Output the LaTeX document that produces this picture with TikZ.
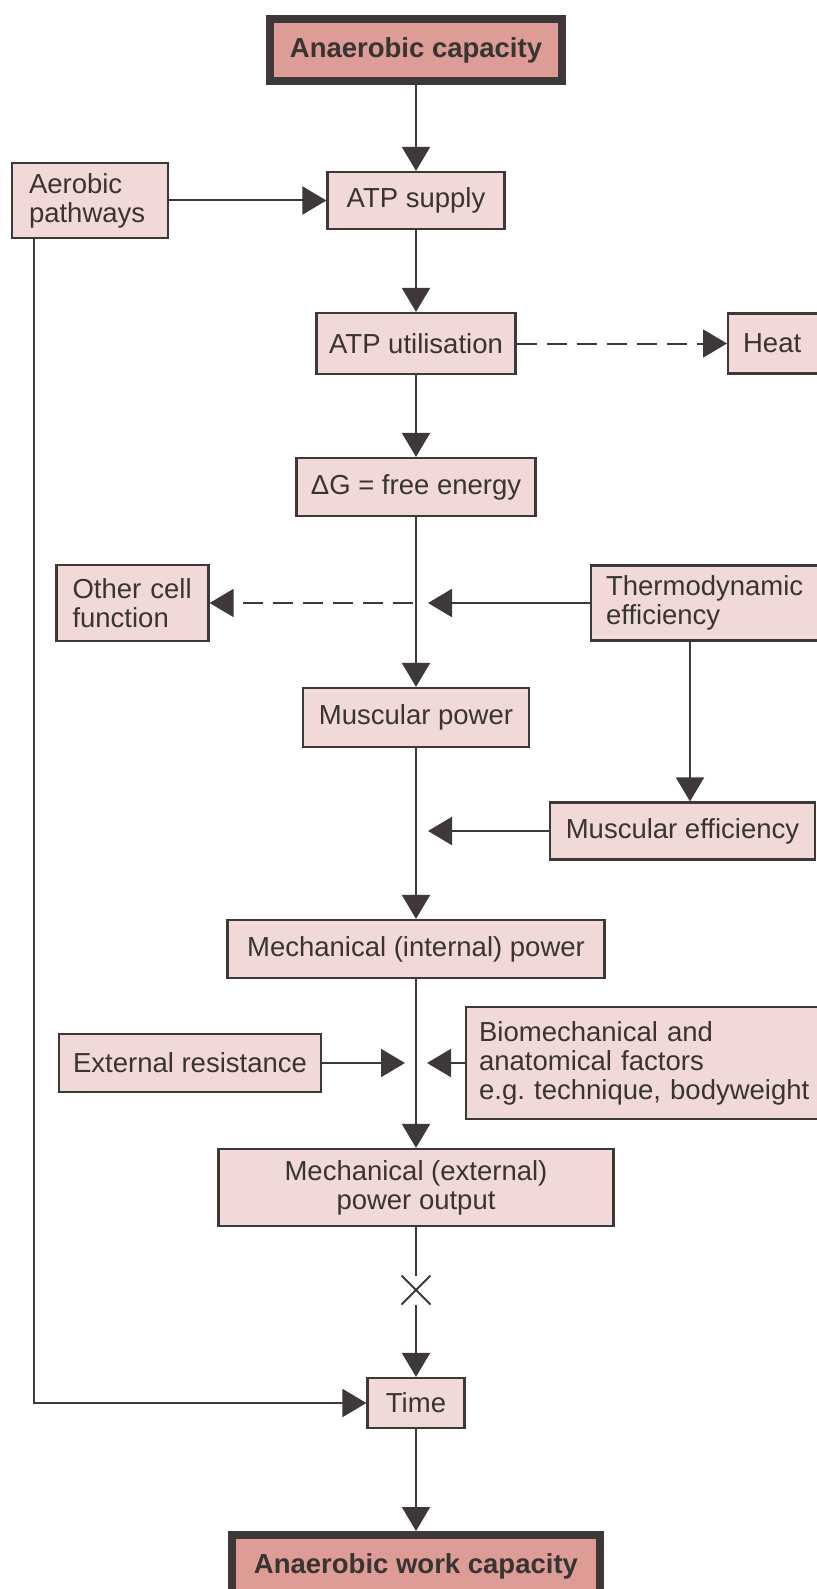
\documentclass[tikz,border=0pt]{standalone}
\usepackage{fontspec}
\setmainfont{Liberation Sans}
\usetikzlibrary{arrows.meta}
\usetikzlibrary{shapes.misc}
\definecolor{boxpink}{RGB}{240,217,214}
\definecolor{titlepink}{RGB}{222,156,151}
\definecolor{darkline}{RGB}{62,56,56}
\definecolor{textgrey}{RGB}{56,52,52}
\frenchspacing

\begin{document}
\begin{tikzpicture}[x=0.5pt,y=-0.5pt,
    every node/.style={font=\fontsize{13.75}{14.5}\selectfont,text=textgrey},
    box/.style={draw=darkline,fill=boxpink,line width=1.1pt,inner sep=0pt},
    title/.style={draw=darkline,fill=titlepink,line width=4pt,font=\fontsize{13.75}{14.5}\selectfont\bfseries},
    arr/.style={draw=darkline,line width=1pt,-{Triangle[width=14pt,length=12pt]}},
    dasharr/.style={arr,dash pattern=on 10pt off 5pt}]
      \useasboundingbox (0,0) rectangle (816,1589);

      \node[title,minimum width=146pt,minimum height=31pt] (cap) at (416,50) {Anaerobic capacity};
      \node[box,minimum width=78pt,minimum height=37.5pt,text width=61pt,align=left] (aer) at (90,200.5) {Aerobic\\pathways};
      \node[box,minimum width=88.5pt,minimum height=28.5pt] (atps) at (416,200.5) {ATP supply};
      \node[box,minimum width=99.5pt,minimum height=30.5pt] (atpu) at (416,343.5) {ATP utilisation};
      \node[box,anchor=west,minimum height=30pt,text width=40pt,inner xsep=7.5pt,align=left] (heat) at (727,343.5) {Heat};
      \node[box,minimum width=119.5pt,minimum height=29pt] (dg) at (416,487) {ΔG = free energy};

      % side inputs round muscular power
      \node[box,minimum width=76pt,minimum height=38pt,text width=60pt,align=left] (ocf) at (132.5,603) {Other cell\\function};
      \node[box,anchor=west,minimum height=37.5pt,text width=112pt,inner xsep=7.5pt,align=left] (thermo) at (590,603) {Thermodynamic\\efficiency};
      \coordinate (jtherm) at (428,603);
      \coordinate (jocf) at (413,603);
      \node[box,minimum width=113pt,minimum height=29.5pt] (mp) at (416,717.5) {Muscular power};
      \node[box,minimum width=132.5pt,minimum height=28.5pt] (me) at (682.5,831) {Muscular efficiency};
      \coordinate (jme) at (428,831);
      \node[box,minimum width=188.5pt,minimum height=29pt] (mip) at (416,949) {Mechanical (internal) power};

      % resistance and technique
      \node[box,minimum width=131pt,minimum height=29pt] (er) at (190,1063) {External resistance};
      \node[box,anchor=west,minimum height=56pt,text width=170pt,inner xsep=6.5pt,align=left] (bio) at (465,1063) {Biomechanical and\\anatomical factors\\e.g. technique, bodyweight};
      \coordinate (jer) at (405,1063);
      \coordinate (jbio) at (427,1063);
      \node[box,minimum width=197.5pt,minimum height=38.5pt,align=center] (mep) at (416,1187.5) {Mechanical (external)\\power output};
      \node[cross out,draw=darkline,line width=0.9pt,minimum size=11.5pt,inner sep=0pt,outer sep=1.5pt] (mul) at (416,1290) {};
      \node[box,minimum width=48.5pt,minimum height=25pt] (time) at (416,1403) {Time};
      \node[title,minimum width=184pt,minimum height=31pt] (awc) at (416,1566) {Anaerobic work capacity};

      \draw[arr] (cap) -- (atps);
      \draw[arr] (aer) -- (atps);
      \draw[arr] (atps) -- (atpu);
      \draw[dasharr] (atpu) -- (heat);
      \draw[arr] (atpu) -- (dg);
      \draw[arr] (dg) -- (mp);
      \draw[arr] (thermo.west) -- (jtherm);
      \draw[dasharr] (jocf) -- (ocf);
      \draw[arr] ([xshift=50pt]thermo.south west) -- ([xshift=50pt]thermo.south west |- me.north);
      \draw[arr] (me) -- (jme);
      \draw[arr] (mp) -- (mip);
      \draw[arr] (er) -- (jer);
      \draw[arr] (bio.west) -- (jbio);
      \draw[arr] (mip) -- (mep);
      \draw[darkline,line width=1pt] (mep) -- (mul);
      \draw[arr] (mul) -- (time);
      \draw[arr] ([xshift=11.5pt]aer.south west) |- (time);   % aerobic share of time
      \draw[arr] (time) -- (awc);
    \end{tikzpicture}
\end{document}
